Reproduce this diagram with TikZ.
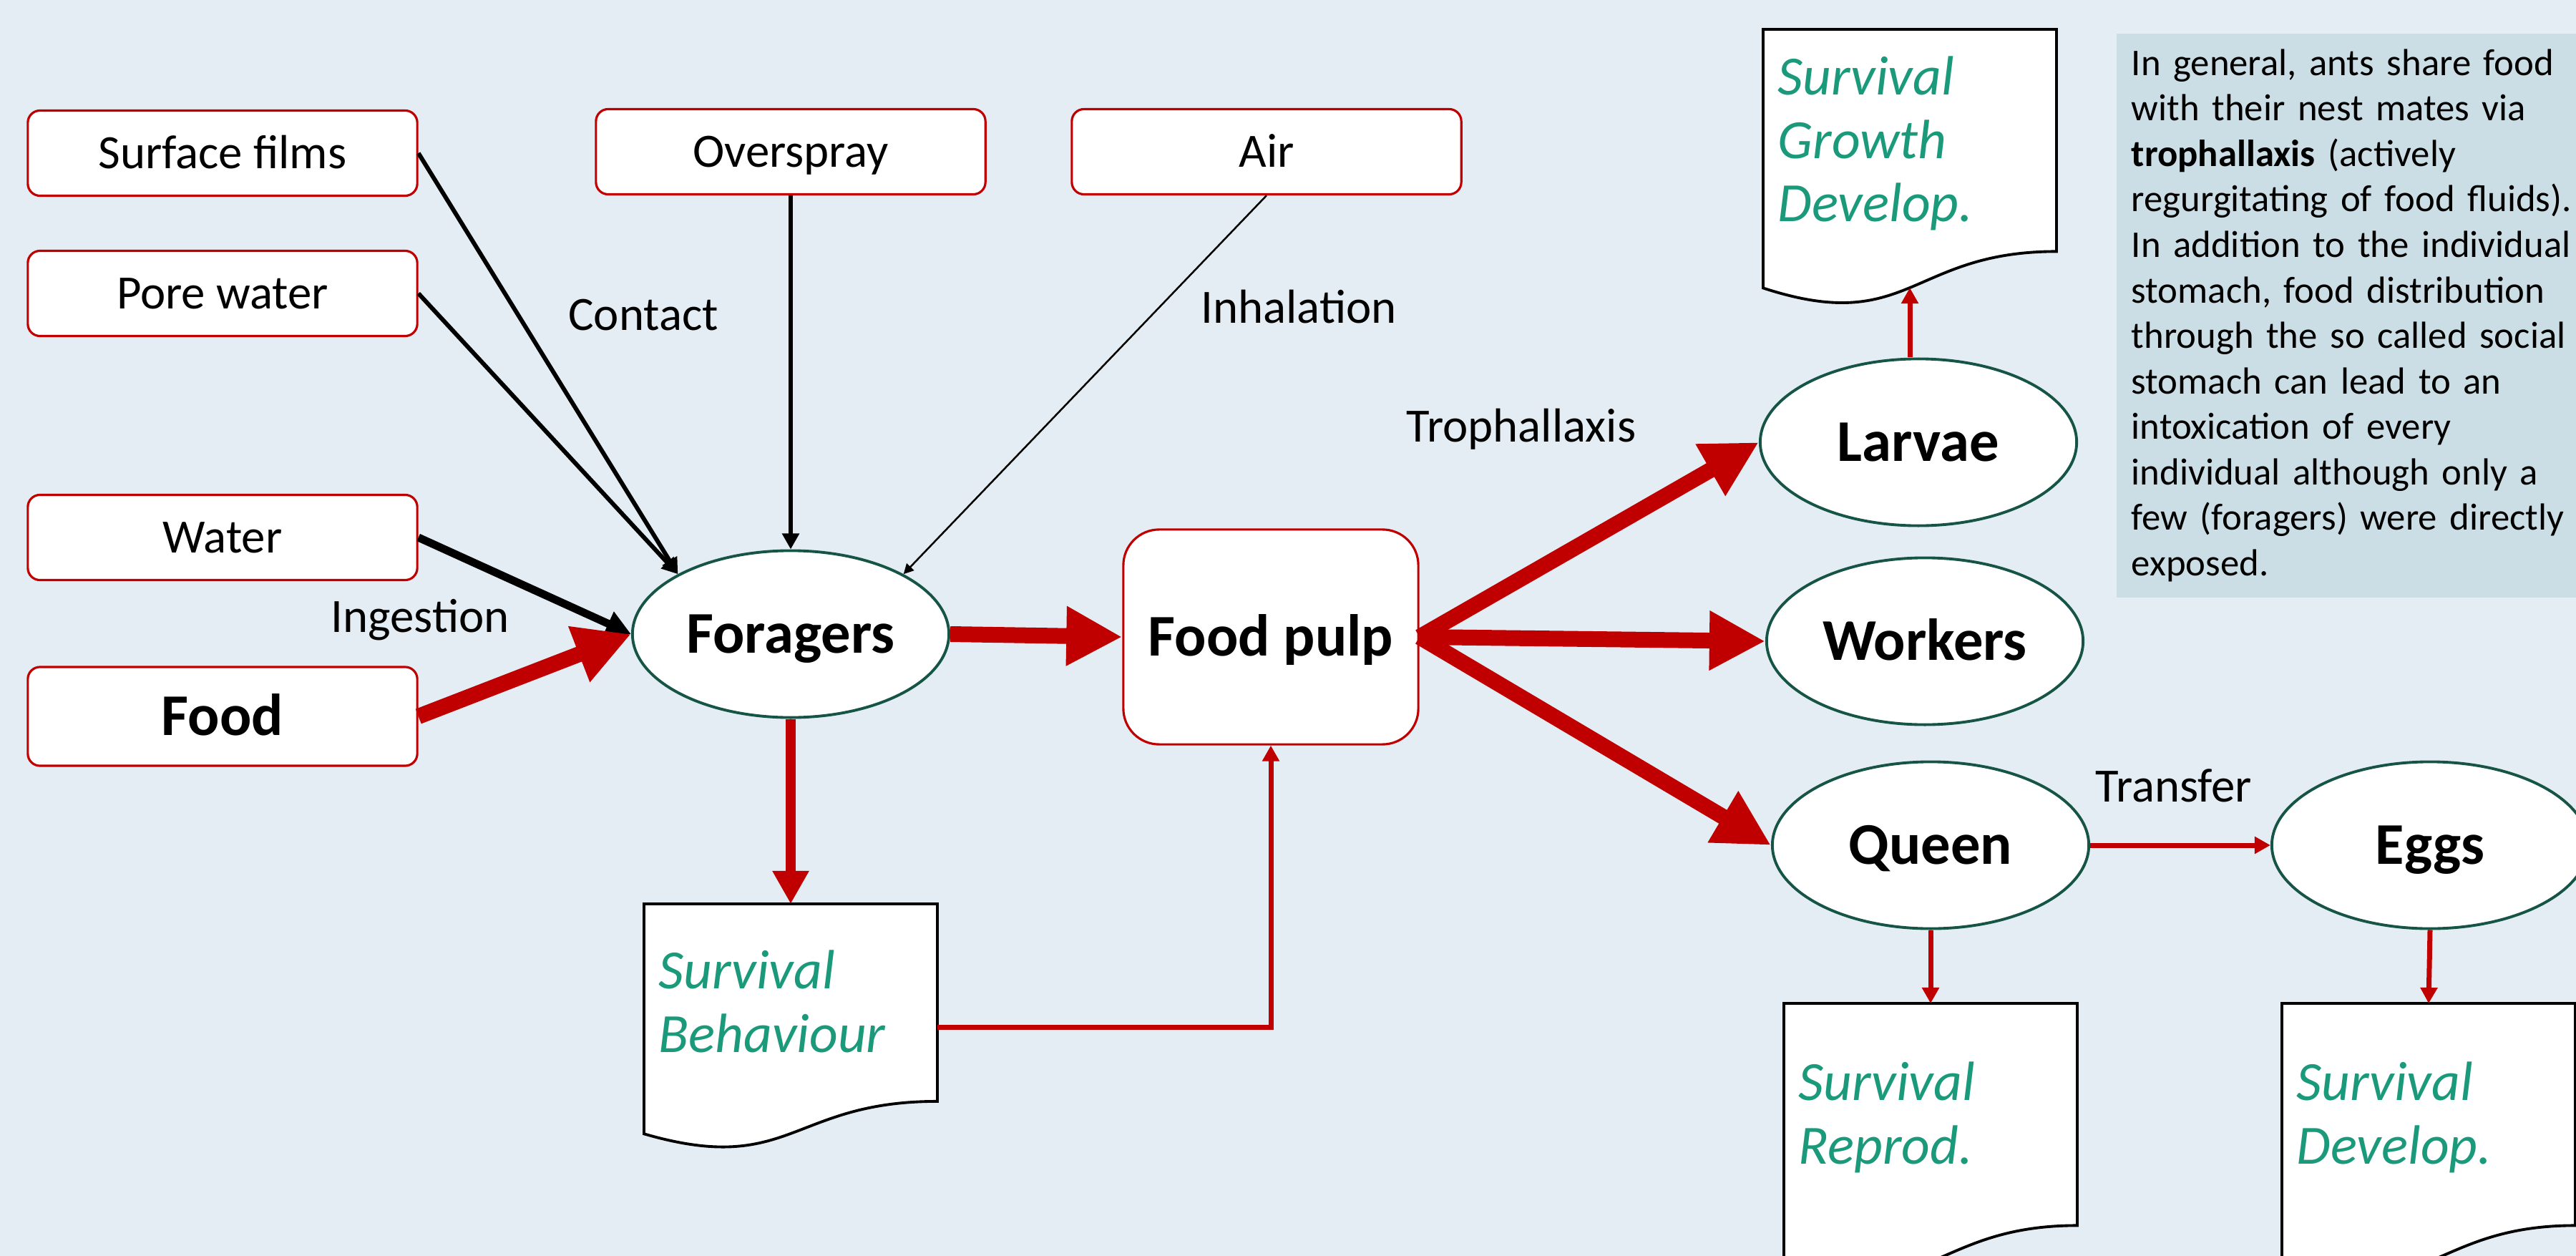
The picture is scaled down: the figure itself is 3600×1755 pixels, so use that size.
\documentclass[tikz,border=0pt]{standalone}
\usepackage{fontspec}
\setmainfont{Carlito}
\usetikzlibrary{calc, shapes.geometric, arrows.meta}
\definecolor{pagebg}{RGB}{228,237,243}
\definecolor{notebg}{RGB}{204,222,229}
\definecolor{antred}{RGB}{192,0,0}
\definecolor{ovalline}{RGB}{22,84,70}
\definecolor{survgreen}{RGB}{26,154,122}
\tikzset{
  smallfont/.style={font=\fontsize{19}{23}\selectfont},
  bigfont/.style={font=\fontsize{23.5}{28}\selectfont\bfseries, text height=15.1pt, text depth=0pt},
  src/.style={draw=antred, line width=0.9pt, fill=white, rounded corners=0.17cm,
    minimum width=5.44cm, minimum height=1.19cm, inner sep=0pt, smallfont,
    text height=12.2pt, text depth=0pt},
  pulpbox/.style={minimum width=4.12cm, minimum height=3.0cm, rounded corners=0.5cm, bigfont},
  colony/.style={ellipse, draw=ovalline, line width=1.1pt, fill=white,
    minimum width=4.42cm, minimum height=2.33cm, inner sep=0pt, bigfont},
  docline/.style={draw=black, line width=1.1pt, fill=white},
  survtext/.style={font=\fontsize{22}{25.2}\selectfont\itshape, text=survgreen, align=left, inner sep=0pt},
  route/.style={smallfont, inner sep=0pt},
  note/.style={fill=notebg, text width=6.3cm, align=left, inner xsep=0.21cm, inner ysep=0.22cm,
    font=\fontsize{15}{18.07}\selectfont},
  feed/.style={draw=antred, line width=0.22cm, -{Triangle[length=0.78cm,width=0.78cm]}},
  feedmid/.style={draw=antred, line width=0.14cm, -{Triangle[length=0.46cm,width=0.48cm]}},
  feedthin/.style={draw=antred, line width=0.07cm, -{Triangle[length=0.22cm,width=0.23cm]}},
  touch/.style={draw=black, line width=0.06cm, -{Triangle[length=0.22cm,width=0.23cm]}},
  drink/.style={draw=black, line width=0.11cm, -{Triangle[length=0.35cm,width=0.35cm]}},
  breathe/.style={draw=black, line width=0.025cm, -{Triangle[length=0.14cm,width=0.14cm]}}
}
% document shape: name, top centre, height, last baseline, text
\newcommand{\survdoc}[5]{%
  \coordinate (#1) at #2;
  \filldraw[docline] ($(#1)+(-205,0)$) -- ($(#1)+(205,0)$) -- ($(#1)+(205,0.802*#3)$)
    .. controls ($(#1)+(0,0.802*#3)$) and ($(#1)+(0,1.107*#3)$) .. ($(#1)+(-205,0.934*#3)$) -- cycle;
  \coordinate (#1-e) at ($(#1)+(205,0.5*#3)$);
  \coordinate (#1-b) at ($(#1)+(0,0.933*#3)$);
  \node[survtext, anchor=base west] (#1-txt) at ($(#1)+(-185,#4)$) {#5};
}

\begin{document}
\begin{tikzpicture}[x=0.01cm, y=-0.01cm]
\fill[pagebg] (0,0) rectangle (3600,1755);
\useasboundingbox (0,0) rectangle (3600,1755);

% exposure sources
\node[src] (surf) at (311,214) {Surface films};
\node[src] (pore) at (311,410) {Pore water};
\node[src] (spray) at (1105,212) {Overspray};
\node[src] (air) at (1770,212) {Air};
\node[src] (water) at (311,751) {Water};
\node[src, minimum height=1.38cm, bigfont] (food) at (311,1001) {Food};

% colony
\node[colony] (foragers) at (1105,886) {Foragers};
\node[src, pulpbox] (pulp) at (1776,890) {Food pulp};
\node[colony] (larvae) at (2681,618) {Larvae};
\node[colony] (workers) at (2690,896) {Workers};
\node[colony] (queen) at (2698,1181) {Queen};
\node[colony] (eggs) at (3396,1181) {Eggs};

% effects
\survdoc{behav}{(1105,1263)}{344}{207}{Survival\\Behaviour}
\survdoc{growth}{(2669,41)}{387}{269}{Survival\\Growth\\Develop.}
\survdoc{repro}{(2698,1402)}{387}{224}{Survival\\Reprod.}
\survdoc{devel}{(3394,1402)}{387}{224}{Survival\\Develop.}

% routes
\draw[touch] (surf.east) -- (foragers.152);
\draw[touch] (pore.east) -- (foragers.152);
\draw[touch] (spray.south) -- (foragers.north);
\draw[breathe] (air.south) -- (foragers.28);
\draw[drink] (water.east) -- (foragers.west);
\draw[feed] (food.east) -- (foragers.west);
\draw[feed] (foragers.east) -- (pulp.west);
\draw[feed] (pulp.east) -- (larvae.west);
\draw[feed] (pulp.east) -- (workers.west);
\draw[feed] (pulp.east) -- (queen.west);
\draw[feedmid] (foragers.south) -- (behav);
\draw[feedthin] (behav-e) -| (pulp.south);
\draw[feedthin] (growth-b |- larvae.north) -- (growth-b);
\draw[feedthin] (queen.south) -- (repro);
\draw[feedthin] (eggs.south) -- (devel);
\draw[feedthin] (queen.east) -- (eggs.west);

\node[route, anchor=base] (contact) at (899,462) {Contact};
\node[route, anchor=base] (inhal) at (1815,452) {Inhalation};
\node[route, anchor=base] (ingest) at (587,883) {Ingestion};
\node[route, anchor=base] (troph) at (2126,617) {Trophallaxis};
\node[route, anchor=base] (transfer) at (3038,1120) {Transfer};

% explanation
\node[note, anchor=north west] (note) at (2957,46) {In general, ants share food\\
with their nest mates via\\
\textbf{trophallaxis} (actively\\
regurgitating of food fluids).\\
In addition to the individual\\
stomach, food distribution\\
through the so called social\\
stomach can lead to an\\
intoxication of every\\
individual although only a\\
few (foragers) were directly\\
exposed.};
\end{tikzpicture}
\end{document}
